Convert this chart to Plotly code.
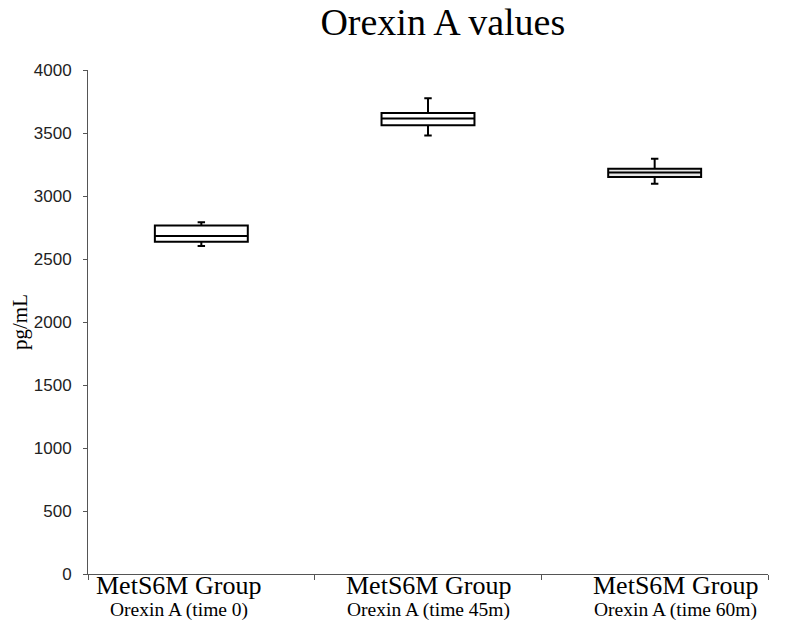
import plotly.graph_objects as go

categories = ["MetS6M Group<br>Orexin A (time 0)", "MetS6M Group<br>Orexin A (time 45m)", "MetS6M Group<br>Orexin A (time 60m)"]
group_line = ["MetS6M Group", "MetS6M Group", "MetS6M Group"]
sub_line = ["Orexin A (time 0)", "Orexin A (time 45m)", "Orexin A (time 60m)"]
lower_whisker = [2604, 3481, 3097]
q1 = [2636, 3561, 3150]
median = [2683, 3616, 3187]
q3 = [2765, 3659, 3216]
upper_whisker = [2792, 3775, 3296]
fills = ["white", "white", "#e6e6e6"]
label_pos = [-0.10, 1.0, 2.09]

fig = go.Figure()
for i in range(len(categories)):
    fig.add_trace(go.Box(
        x=[i], q1=[q1[i]], median=[median[i]], q3=[q3[i]],
        lowerfence=[lower_whisker[i]], upperfence=[upper_whisker[i]],
        width=0.41, whiskerwidth=0.08,
        fillcolor=fills[i], line=dict(color="black", width=2),
        boxpoints=False, showlegend=False, hoverinfo="skip",
        name=categories[i],
    ))

for i in range(len(categories)):
    fig.add_annotation(x=label_pos[i], y=0, xref="x", yref="paper", yanchor="top",
                       yshift=5, showarrow=False, text=group_line[i],
                       font=dict(family="Liberation Serif", size=26, color="black"))
    fig.add_annotation(x=label_pos[i], y=0, xref="x", yref="paper", yanchor="top",
                       yshift=-23, showarrow=False, text=sub_line[i],
                       font=dict(family="Liberation Serif", size=19.5, color="black"))

fig.update_layout(
    width=792, height=621,
    margin=dict(l=80, r=32, t=62, b=55, autoexpand=False),
    paper_bgcolor="white", plot_bgcolor="white",
    title=dict(text="Orexin A values", x=0.549, xanchor="center", y=1.0, yanchor="top",
               yref="container", pad=dict(t=0),
               font=dict(family="Liberation Serif", size=38, color="black")),
    xaxis=dict(range=[-0.5, 2.5], tickvals=[-0.5, 0.5, 1.5, 2.5], ticktext=["", "", "", ""],
               ticks="outside", ticklen=5, tickcolor="#555", showgrid=False, zeroline=False,
               showline=True, linecolor="#555", linewidth=1, automargin=False),
    yaxis=dict(range=[0, 4000], tickvals=[0, 500, 1000, 1500, 2000, 2500, 3000, 3500, 4000],
               ticks="outside", ticklen=4, tickcolor="#555", showgrid=False, zeroline=False,
               showline=True, linecolor="#555", linewidth=1, ticklabelstandoff=8, automargin=False,
               tickfont=dict(family="Liberation Sans", size=17, color="#222"),
               title=dict(text="pg/mL", font=dict(family="Liberation Serif", size=21, color="black"), standoff=8)),
)

fig.write_html("out.html")
